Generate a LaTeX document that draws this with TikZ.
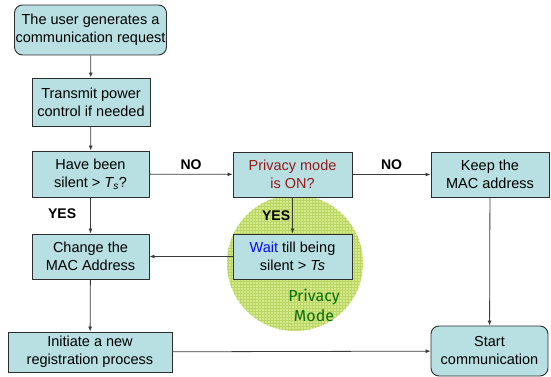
\documentclass[tikz,border=0pt]{standalone}
\usepackage{fontspec}
\setmainfont{Liberation Sans}
\newfontfamily\comicfont{Fira Sans}
\usetikzlibrary{arrows.meta,patterns}
\definecolor{boxfill}{RGB}{184,224,226}
\definecolor{boxline}{RGB}{45,45,45}
\definecolor{pmred}{RGB}{150,25,25}
\definecolor{waitblue}{RGB}{10,10,240}
\definecolor{circfill}{RGB}{214,234,140}
\definecolor{circgrid}{RGB}{185,214,100}
\definecolor{pmgreen}{RGB}{10,110,10}
\definecolor{arrgray}{RGB}{60,60,60}
\tikzset{
  flowbox/.style={draw=boxline, line width=0.9pt, fill=boxfill, align=center,
    inner sep=0pt, font=\fontsize{14.5}{18}\selectfont},
  roundbox/.style={flowbox, rounded corners=8pt},
  flowarrow/.style={draw=arrgray, line width=0.8pt, -{Latex[length=5pt,width=4pt]}},
  lbl/.style={font=\fontsize{14}{16}\selectfont\bfseries, inner sep=0pt}
}
\begin{document}
\begin{tikzpicture}[x=1pt,y=-1pt]
\useasboundingbox (0,0) rectangle (551,377);
% privacy mode circle
\fill[circfill] (295,263) circle (68);
\fill[pattern=grid, pattern color=circgrid] (295,263) circle (68);
\node[font=\fontsize{16}{20}\selectfont\comicfont, text=pmgreen, align=center] (pmtext) at (314,305) {Privacy\\Mode};

\node[roundbox, minimum width=152pt, minimum height=50pt] (user) at (90.5,30) {The user generates a\\communication request};
\node[flowbox, minimum width=118pt, minimum height=48pt] (tpc) at (91,102) {Transmit power\\control if needed};
\node[flowbox, minimum width=117pt, minimum height=46pt] (silent) at (90.5,174) {Have been\\silent > \textit{T\textsubscript{s}}?};
\node[flowbox, minimum width=117pt, minimum height=45pt] (change) at (90.5,256.5) {Change the\\MAC Address};
\node[flowbox, minimum width=119pt, minimum height=45pt] (privacy) at (292.5,174.5) {\textcolor{pmred}{Privacy mode}\\\textcolor{pmred}{is ON?}};
\node[flowbox, minimum width=119pt, minimum height=45pt] (wait) at (292.5,256.5) {\textcolor{waitblue}{Wait} till being\\silent > \textit{Ts}};
\node[flowbox, minimum width=118pt, minimum height=45pt] (keep) at (490,174.5) {Keep the\\MAC address};
\node[flowbox, minimum width=164pt, minimum height=40pt] (init) at (90,352) {Initiate a new\\registration process};
\node[roundbox, minimum width=117pt, minimum height=50pt] (start) at (489.5,351) {Start\\communication};

\draw[flowarrow] (user) -- (tpc);
\draw[flowarrow] (tpc) -- (silent);
\draw[flowarrow] (silent) -- node[lbl, pos=0.45, left=14pt] (yes1) {YES} (change);
\draw[flowarrow] (silent) -- node[lbl, above=4pt] (no1) {NO} (privacy);
\draw[flowarrow] (privacy) -- node[lbl, above=4pt] (no2) {NO} (keep);
\draw[flowarrow] (privacy) -- node[lbl, pos=0.5, left=2pt] (yes2) {YES} (wait);
\draw[flowarrow] (wait) -- (change);
\draw[flowarrow] (change) -- (init);
\draw[flowarrow] (keep) -- (start);
\draw[flowarrow] (init) -- (start);
\end{tikzpicture}
\end{document}
